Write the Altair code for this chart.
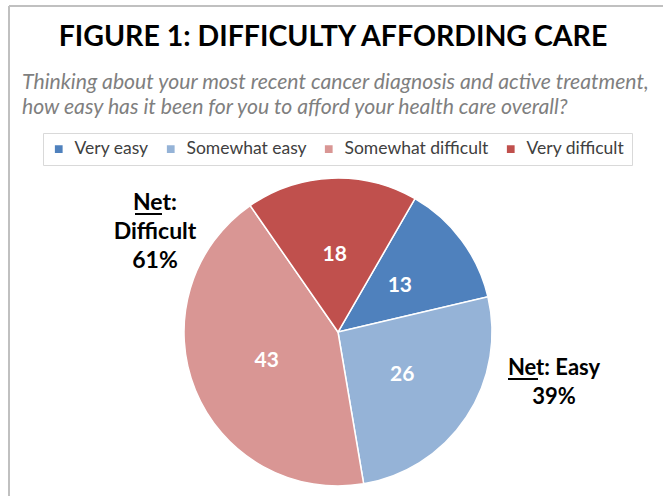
import math
import altair as alt
import pandas as pd

# ---- data ----
categories = ["Very easy", "Somewhat easy", "Somewhat difficult", "Very difficult"]
values = [13, 26, 43, 18]
colors = ["#4F81BD", "#95B3D7", "#D99694", "#C0504D"]

title_text = "FIGURE 1: DIFFICULTY AFFORDING CARE"
subtitle_lines = [
    "Thinking about your most recent cancer diagnosis and active treatment,",
    "how easy has it been for you to afford your health care overall?",
]
net_left = ["Net:", "Difficult", "61%"]
net_right = ["Net: Easy", "39%"]

FONT = "Lato"
start = math.radians(30)
CX, CY, R = 338, 332, 154

pie_df = pd.DataFrame({"category": categories, "value": values, "idx": list(range(len(values)))})

theta = alt.Theta("value:Q", stack=True,
                  scale=alt.Scale(range=[start, start + 2 * math.pi]))

base = alt.Chart(pie_df).encode(theta=theta, order=alt.Order("idx:Q"))

arcs = base.mark_arc(outerRadius=R, stroke="white", strokeWidth=1.5).encode(
    x=alt.value(CX), y=alt.value(CY),
    color=alt.Color("category:N",
                    scale=alt.Scale(domain=categories, range=colors),
                    sort=categories,
                    legend=alt.Legend(orient="none", legendX=43, legendY=133,
                                      direction="horizontal", title=None,
                                      strokeColor="#d9d9d9", padding=7,
                                      symbolType="square", symbolSize=60,
                                      symbolStrokeWidth=0,
                                      labelFont=FONT, labelFontSize=17.5,
                                      labelColor="#404040", labelOffset=7,
                                      columnPadding=13, labelLimit=300)),
)

labels = base.mark_text(radius=R / 2, font=FONT, fontSize=21, fontWeight="bold",
                        color="white").encode(
    x=alt.value(CX), y=alt.value(CY), text=alt.Text("value:Q"))

# frame
frame_left = alt.Chart(pie_df).mark_rule(color="#c0c0c0", strokeWidth=2).encode(
    x=alt.value(9), y=alt.value(6), y2=alt.value(496))
frame_top = alt.Chart(pie_df).mark_rule(color="#c0c0c0", strokeWidth=2).encode(
    x=alt.value(9), x2=alt.value(663), y=alt.value(6))

title = alt.Chart(pd.DataFrame({"t": [title_text]})).mark_text(
    font=FONT, fontSize=28.5, fontWeight="bold", color="#000000", align="center",
    baseline="alphabetic").encode(x=alt.value(333), y=alt.value(46), text="t:N")

subtitle = alt.Chart(pd.DataFrame({"t": ["\n".join(subtitle_lines)]})).mark_text(
    font=FONT, fontSize=21.2, fontStyle="italic", color="#7f7f7f", align="left",
    baseline="alphabetic", lineBreak="\n", lineHeight=25).encode(
    x=alt.value(22), y=alt.value(89), text="t:N")

ann_left = alt.Chart(pd.DataFrame({"t": ["\n".join(net_left)]})).mark_text(
    font=FONT, fontSize=23, fontWeight="bold", color="#000000", align="center",
    baseline="alphabetic", lineBreak="\n", lineHeight=29).encode(
    x=alt.value(155), y=alt.value(210), text="t:N")

ann_right = alt.Chart(pd.DataFrame({"t": ["\n".join(net_right)]})).mark_text(
    font=FONT, fontSize=22, fontWeight="bold", color="#000000", align="center",
    baseline="alphabetic", lineBreak="\n", lineHeight=29).encode(
    x=alt.value(554), y=alt.value(375), text="t:N")

ul_left = alt.Chart(pie_df).mark_rule(color="#000000", strokeWidth=1.5).encode(
    x=alt.value(135), x2=alt.value(162), y=alt.value(214))
ul_right = alt.Chart(pie_df).mark_rule(color="#000000", strokeWidth=1.5).encode(
    x=alt.value(508), x2=alt.value(538), y=alt.value(379))

chart = alt.layer(
    frame_left, frame_top, arcs, labels, title, subtitle, ann_left, ann_right,
    ul_left, ul_right
).properties(
    width=663, height=496, padding=0, autosize=alt.AutoSizeParams(type="none"),
    background="white"
).configure_view(stroke=None)

chart.save("out.html", embed_options={"renderer": "svg", "actions": False})
